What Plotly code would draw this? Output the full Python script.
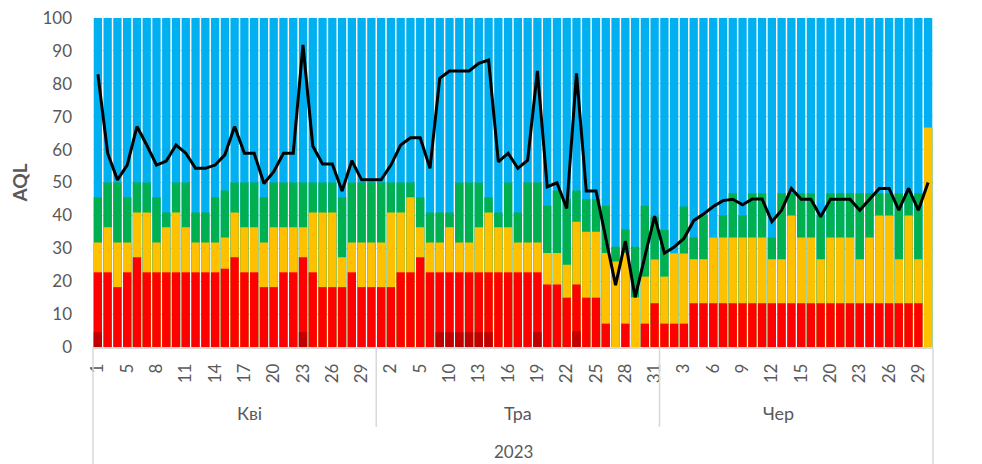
import plotly.graph_objects as go

# днi з даними (деякi днi вiдсутнi)
days_apr = [1, 3, 4] + list(range(5, 31))
days_may = [1, 2, 3, 4, 5, 8, 9] + list(range(10, 32))
days_jun = list(range(1, 16)) + [16, 19] + list(range(20, 31))
months = ['Кві', 'Тра', 'Чер']
year = '2023'

# верхня межа кожного шару (накопичено, %)
top_blue = [100] * 86
top_green = [45.5, 50, 50, 45.5, 50, 50, 45.5, 40.9, 50, 50, 40.9, 40.9, 45.5, 47.6, 50,
             50, 50, 45.5, 50, 50, 50, 50, 50, 50, 50, 45.5, 50, 50, 50,
             50, 50, 50, 50, 45.5, 40.9, 40.9, 40.9, 50, 50, 50, 45.5, 40.9, 50, 40.9,
             50, 50, 42.9, 47.6, 45, 47.6, 45, 45, 42.9, 30.5, 35.7, 30.5, 42.9, 39.6,
             35.6, 28.5, 42.7, 33.3, 40, 33.3, 40, 46.7, 40, 46.7, 46.7, 33.3, 46.7, 46.7,
             46.7, 46.7, 40, 46.7, 46.7, 46.7, 46.7, 46.7, 46.7, 46.7, 46.7, 46.7, 46.7, 66.7]
top_orange = [31.8, 36.4, 31.8, 31.8, 40.9, 40.9, 31.8, 36.4, 40.9, 36.4, 31.8, 31.8, 31.8, 33.3, 40.9,
              36.4, 36.4, 31.8, 36.4, 36.4, 36.4, 36.4, 40.9, 40.9, 40.9, 27.3, 31.8, 31.8, 31.8,
              31.8, 40.9, 40.9, 45.5, 36.4, 31.8, 31.8, 36.4, 31.8, 31.8, 36.4, 40.9, 36.4, 36.4, 31.8,
              31.8, 31.8, 28.6, 28.6, 25, 38.1, 35, 35, 28.6, 26, 28.6, 15.1, 21.4, 26.6,
              21.4, 28.5, 28.4, 26.7, 26.7, 33.3, 33.3, 33.3, 33.3, 33.3, 33.3, 26.7, 26.7, 40,
              33.3, 33.3, 26.7, 33.3, 33.3, 33.3, 26.7, 33.3, 40, 40, 26.7, 40, 26.7, 66.7]
top_red = [22.7, 22.7, 18.2, 22.7, 27.3, 22.7, 22.7, 22.7, 22.7, 22.7, 22.7, 22.7, 22.7, 23.8, 27.3,
           22.7, 22.7, 18.2, 18.2, 22.7, 22.7, 27.3, 22.7, 18.2, 18.2, 18.2, 22.7, 18.2, 18.2,
           18.2, 18.2, 22.7, 22.7, 27.3, 22.7, 22.7, 22.7, 22.7, 22.7, 22.7, 22.7, 22.7, 22.7, 22.7,
           22.7, 22.7, 19.0, 19.0, 15, 19.0, 15, 15, 7.1, 0, 7.1, 0, 7.1, 13.3,
           7.1, 7.1, 7.1, 13.3, 13.3, 13.3, 13.3, 13.3, 13.3, 13.3, 13.3, 13.3, 13.3, 13.3,
           13.3, 13.3, 13.3, 13.3, 13.3, 13.3, 13.3, 13.3, 13.3, 13.3, 13.3, 13.3, 13.3, 0]
top_darkred = [4.5, 0, 0, 0, 0, 0, 0, 0, 0, 0, 0, 0, 0, 0, 0,
               0, 0, 0, 0, 0, 0, 4.5, 0, 0, 0, 0, 0, 0, 0,
               0, 0, 0, 0, 0, 0, 4.5, 4.5, 4.5, 4.5, 4.5, 4.5, 0, 0, 0,
               0, 4.5, 0, 0, 0, 4.8, 0, 0, 0, 0, 0, 0, 0, 0,
               0, 0, 0, 0, 0, 0, 0, 0, 0, 0, 0, 0, 0, 0,
               0, 0, 0, 0, 0, 0, 0, 0, 0, 0, 0, 0, 0, 0]
aql = [82.9, 58.9, 50.8, 55.3, 67, 61.4, 55.3, 56.5, 61.4, 58.9, 54.3, 54.3, 55.3, 58.4, 67,
       58.9, 58.9, 49.7, 53.3, 58.9, 58.9, 91.8, 61.1, 55.6, 55.6, 47.4, 56.6, 50.8, 50.8,
       50.8, 55.3, 61.4, 63.6, 63.6, 54.3, 81.7, 83.9, 83.9, 83.9, 86.2, 87.2, 56.3, 58.9, 54.3,
       56.8, 83.9, 48.7, 49.9, 42.1, 83.2, 47.4, 47.4, 33, 18.8, 32.2, 15.1, 27.5, 39.8,
       28.5, 30.4, 33, 38.4, 40.4, 42.7, 44.5, 44.9, 43.2, 45, 45, 38.1, 41.6, 48.2,
       44.9, 44.9, 39.6, 44.9, 44.9, 44.9, 41.6, 44.9, 48.2, 48.2, 41.6, 48.2, 41.6, 50]

days = days_apr + days_may + days_jun
x = list(range(len(days)))
n = len(days)
grey = '#595959'

fig = go.Figure()
for tops, col in [(top_blue, '#00B0F0'), (top_green, '#00B050'), (top_orange, '#FFC000'),
                  (top_red, '#FF0000'), (top_darkred, '#C00000')]:
    fig.add_trace(go.Bar(x=x, y=tops, marker=dict(color=col, line=dict(width=0)),
                         showlegend=False, hoverinfo='skip'))

fig.add_trace(go.Scatter(x=x, y=aql, mode='lines', line=dict(color='black', width=3),
                         showlegend=False))

# межі мiсяцiв i пiдписи
bounds = [0, len(days_apr), len(days_apr) + len(days_may), n]
shapes = []
annotations = []
for k, b in enumerate(bounds):
    outer = k in (0, len(bounds) - 1)
    shapes.append(dict(type='line', xref='paper', yref='paper',
                       x0=b / n, x1=b / n, y0=0, y1=-0.36 if outer else -0.243,
                       line=dict(color='#D9D9D9', width=1.5)))
for k, m in enumerate(months):
    annotations.append(dict(x=(bounds[k] + bounds[k + 1]) / 2 / n, y=-0.2, xref='paper', yref='paper',
                            yanchor='middle', text=m, showarrow=False,
                            font=dict(size=18, color=grey)))
annotations.append(dict(x=0.5, y=-0.318, xref='paper', yref='paper', yanchor='middle', text=year,
                        showarrow=False, font=dict(size=17, color=grey)))

# сторiнка має вiдступ 8px, тому поля зсунуто
fig.update_layout(
    width=982, height=464,
    margin=dict(l=85, r=57, t=10, b=125),
    barmode='overlay', bargap=0.15,
    plot_bgcolor='white', paper_bgcolor='white',
    font=dict(family='Lato, sans-serif', color=grey),
    shapes=shapes, annotations=annotations,
)
fig.update_xaxes(range=[-0.5, n - 0.5], tickmode='array', automargin=False,
                 tickvals=x[::3], ticktext=[str(d) for d in days[::3]],
                 tickangle=-90, tickfont=dict(size=17, color=grey),
                 showgrid=False, showline=True, linecolor='#D9D9D9', linewidth=1.5,
                 ticks='', ticklabelstandoff=8, ticklabeloverflow='allow')
fig.update_yaxes(range=[0, 100], dtick=10, tickfont=dict(size=17, color=grey),
                 automargin=False, ticklabeloverflow='allow',
                 showgrid=True, gridcolor='#D9D9D9', zeroline=False, ticks='',
                 ticklabelstandoff=20,
                 title=dict(text='<b>AQL</b>', font=dict(size=19, color=grey), standoff=22))

fig.write_html("out.html")
